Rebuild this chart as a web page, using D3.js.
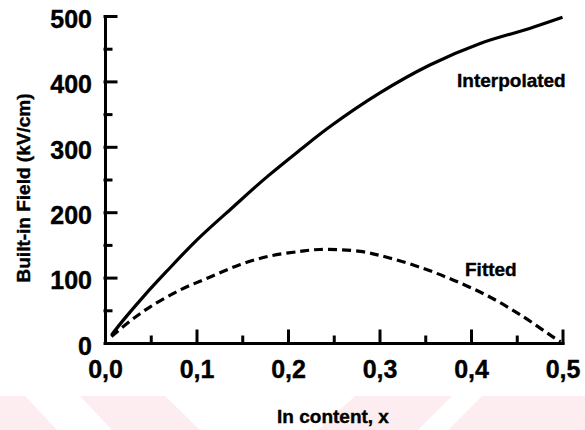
<!DOCTYPE html>
<html>
<head>
<meta charset="utf-8">
<script src="https://cdn.jsdelivr.net/npm/d3@7"></script>
<style>
  body { margin: 0; background: #fff; }
  svg { display: block; font-family: "Liberation Sans", Arial, sans-serif; font-weight: bold; }
  text { stroke: #000; stroke-width: 0.4px; }
</style>
</head>
<body>
<script>
// interpolated built-in field (solid)
let interpX = [0.007, 0.02, 0.042, 0.067, 0.1, 0.14, 0.177, 0.213, 0.246, 0.30, 0.355, 0.41, 0.464, 0.50]
let interpY = [12, 35, 71, 109, 157, 208, 254, 295, 331, 382, 425, 458, 481, 498]

// fitted built-in field (dashed)
let fitX = [0.007, 0.027, 0.049, 0.082, 0.115, 0.148, 0.180, 0.213, 0.235, 0.279, 0.311, 0.348, 0.381, 0.417, 0.454, 0.492, 0.498]
let fitY = [10, 33, 55, 81, 101, 120, 133, 140, 143, 140, 130, 114, 96, 73, 43, 7, 2]

let xMajor = [0, 0.1, 0.2, 0.3, 0.4, 0.5]
let xMinor = [0.05, 0.15, 0.25, 0.35, 0.45]
let yMajor = [0, 100, 200, 300, 400, 500]
let yMinor = [50, 150, 250, 350, 450]

var width = 585, height = 430

var svg = d3.select("body").append("svg")
            .attr("width", width)
            .attr("height", height)

// faint pink band at the bottom of the scan
var band = [
  [[0,396],[25,396],[57,430],[0,430]],
  [[80,396],[165,396],[200,430],[112,430]],
  [[355,396],[452,396],[418,430],[318,430]],
  [[482,396],[585,396],[585,430],[448,430]]
]
svg.selectAll("polygon.band").data(band).enter()
   .append("polygon")
   .attr("points", d => d.map(p => p.join(",")).join(" "))
   .attr("fill", "#fdedf0")

var x = d3.scaleLinear().domain([0, 0.5]).range([105, 562.5])
var y = d3.scaleLinear().domain([0, 500]).range([343, 16])

var fmt = d => d3.format(".1f")(d).replace(".", ",")

// x axis
var gx = svg.append("g").attr("transform", "translate(0," + y(0) + ")")
gx.call(d3.axisBottom(x).tickValues(xMajor).tickFormat(fmt)
          .tickSizeInner(-12).tickSizeOuter(0).tickPadding(17))
svg.append("g").attr("transform", "translate(0," + y(0) + ")")
   .call(d3.axisBottom(x).tickValues(xMinor).tickFormat("")
          .tickSizeInner(-6).tickSizeOuter(0))
   .select(".domain").remove()

// y axis
var gy = svg.append("g").attr("transform", "translate(" + x(0) + ",0)")
gy.call(d3.axisLeft(y).tickValues(yMajor)
          .tickSizeInner(-11).tickSizeOuter(0).tickPadding(13))
svg.append("g").attr("transform", "translate(" + x(0) + ",0)")
   .call(d3.axisLeft(y).tickValues(yMinor).tickFormat("")
          .tickSizeInner(-6).tickSizeOuter(0))
   .select(".domain").remove()

svg.selectAll(".domain, .tick line")
   .attr("stroke", "#000")
   .attr("stroke-width", 3)
   .attr("stroke-linecap", "square")

svg.selectAll(".tick text")
   .attr("fill", "#000")
   .style("font-size", "25px")
   .style("font-weight", "bold")
   .style("font-family", "'Liberation Sans', Arial, sans-serif")
gy.selectAll(".tick text").attr("dy", "0.45em")

var line = d3.line()
             .x(d => x(d[0]))
             .y(d => y(d[1]))
             .curve(d3.curveCatmullRom)

svg.append("path")
   .datum(d3.zip(interpX, interpY))
   .attr("fill", "none")
   .attr("stroke", "#000")
   .attr("stroke-width", 3.2)
   .attr("d", line)

svg.append("path")
   .datum(d3.zip(fitX, fitY))
   .attr("fill", "none")
   .attr("stroke", "#000")
   .attr("stroke-width", 3.2)
   .attr("stroke-dasharray", "9,5")
   .attr("d", line)

// labels
svg.append("text")
   .attr("x", 457).attr("y", 87)
   .style("font-size", "19px")
   .text("Interpolated")

svg.append("text")
   .attr("x", 465).attr("y", 276)
   .style("font-size", "19px")
   .text("Fitted")

svg.append("text")
   .attr("x", 333).attr("y", 423)
   .attr("text-anchor", "middle")
   .style("font-size", "19px")
   .text("In content, x")

svg.append("text")
   .attr("transform", "translate(30,188) rotate(-90)")
   .attr("text-anchor", "middle")
   .style("font-size", "19px")
   .text("Built-in Field (kV/cm)")
</script>
</body>
</html>
